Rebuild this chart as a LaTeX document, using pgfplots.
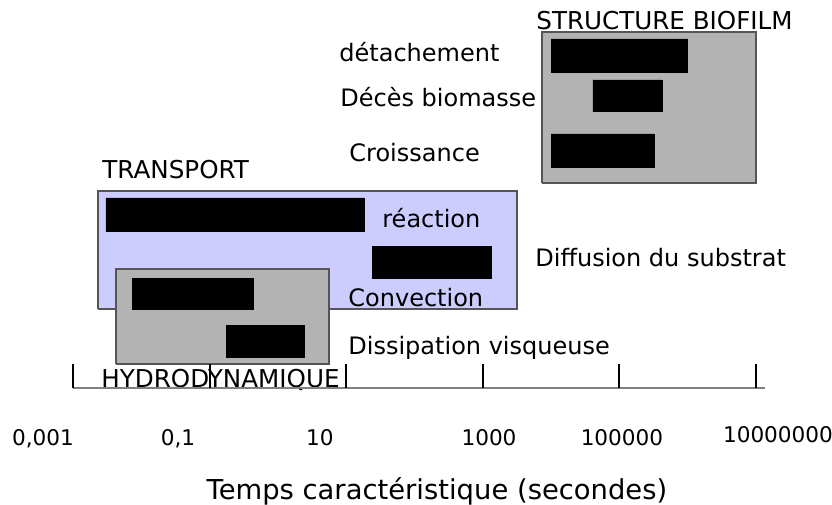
\documentclass[border=0pt]{standalone}
\usepackage{pgfplots}
\pgfplotsset{compat=1.18}
\usepackage{fontspec}
\setmainfont{DejaVu Sans}

\definecolor{boxgray}{HTML}{B3B3B3}
\definecolor{boxblue}{HTML}{CCCCFF}
\definecolor{edgegray}{HTML}{555555}
\definecolor{axisgray}{HTML}{808080}

\tikzset{
lbl/.style={anchor=base west, inner sep=0pt, font=\fontsize{12}{14}\selectfont},
capslbl/.style={anchor=base west, inner sep=0pt, font=\fontsize{12.3}{14}\selectfont},
tck/.style={anchor=base, inner sep=0pt, font=\fontsize{10.8}{12}\selectfont},
}

\begin{document}
\begin{tikzpicture}
\begin{axis}[
scale only axis,
width=416pt, height=252pt,
xmode=log,
xmin=8.53e-5, xmax=1.297e8,
ymin=-116, ymax=388,
hide axis,
clip=false,
]

% STRUCTURE BIOFILM group
\addplot[fill=boxgray, draw=edgegray, line width=0.75pt] coordinates {(7362,205) (1e7,205) (1e7,356) (7362,356) (7362,205)};
\addplot[fill=black, draw=black] coordinates {(1e4,316) (1e6,316) (1e6,349) (1e4,349) (1e4,316)};
\addplot[fill=black, draw=black] coordinates {(41020,277) (420700,277) (420700,308) (41020,308) (41020,277)};
\addplot[fill=black, draw=black] coordinates {(1e4,221) (321400,221) (321400,254) (1e4,254) (1e4,221)};

% TRANSPORT group
\addplot[fill=boxblue, draw=edgegray, line width=0.75pt] coordinates {(0.002323,79) (3170,79) (3170,197) (0.002323,197) (0.002323,79)};
\addplot[fill=black, draw=black] coordinates {(0.00304,157) (18.24,157) (18.24,190) (0.00304,190) (0.00304,157)};
\addplot[fill=black, draw=black] coordinates {(23.88,110) (1318,110) (1318,142) (23.88,142) (23.88,110)};

% HYDRODYNAMIQUE group
\addplot[fill=boxgray, draw=edgegray, line width=0.75pt] coordinates {(0.004266,24) (5.598,24) (5.598,119) (0.004266,119) (0.004266,24)};
\addplot[fill=black, draw=black] coordinates {(0.00731,79) (0.4315,79) (0.4315,110) (0.00731,110) (0.00731,79)};
\addplot[fill=black, draw=black] coordinates {(0.1738,31) (2.410,31) (2.410,63) (0.1738,63) (0.1738,31)};

% labels
\node[capslbl] at (axis cs:6012,358) {STRUCTURE BIOFILM};
\node[lbl] at (axis cs:7.85,326) {détachement};
\node[lbl] at (axis cs:8.11,281) {Décès biomasse};
\node[lbl] at (axis cs:10.99,226) {Croissance};
\node[capslbl] at (axis cs:0.00266,209) {TRANSPORT};
\node[lbl] at (axis cs:33.4,161) {réaction};
\node[lbl] at (axis cs:5808,122) {Diffusion du substrat};
\node[lbl] at (axis cs:10.62,82) {Convection};
\node[lbl] at (axis cs:10.62,34) {Dissipation visqueuse};
\node[capslbl] at (axis cs:0.00257,1) {HYDRODYNAMIQUE};

% time axis
\addplot[axisgray, line width=1pt] coordinates {(1e-3,0) (1.35e7,0)};
\addplot[ycomb, black, line width=1pt] coordinates {(1e-3,24) (1e-1,24) (10,24) (1e3,24) (1e5,24) (1e7,24)};

\node[tck] at (axis cs:3.64e-4,-57) {0,001};
\node[tck] at (axis cs:0.03443,-57) {0,1};
\node[tck] at (axis cs:4.13,-57) {10};
\node[tck] at (axis cs:1233,-57) {1000};
\node[tck] at (axis cs:1.091e5,-57) {100000};
\node[tck] at (axis cs:2.099e7,-54) {10000000};

\node[anchor=base, inner sep=0pt, font=\fontsize{13.7}{15}\selectfont] at (axis cs:213.3,-111) {Temps caractéristique (secondes)};

\end{axis}
\pgfresetboundingbox
\path[use as bounding box] (current axis.south west) rectangle (current axis.north east);
\end{tikzpicture}
\end{document}
